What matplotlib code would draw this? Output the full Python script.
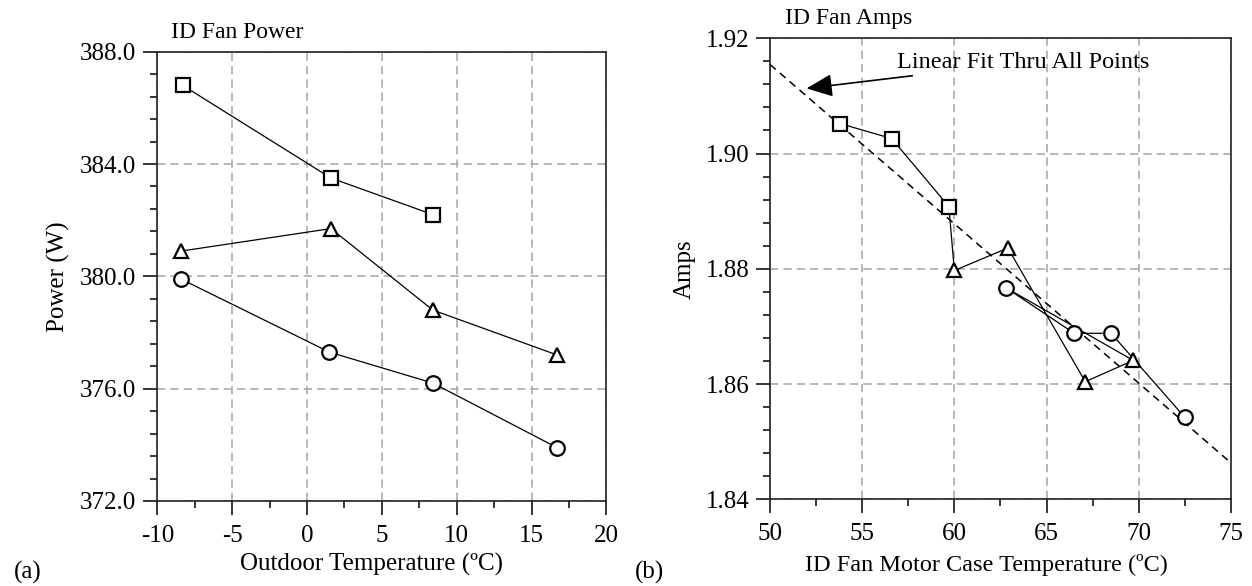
import numpy as np
import matplotlib.pyplot as plt
from matplotlib.ticker import MultipleLocator, FormatStrFormatter

plt.rcParams['font.family'] = ['Liberation Serif', 'DejaVu Serif']
plt.rcParams['axes.unicode_minus'] = False

# (a) ID fan power vs outdoor temperature
pow_sq_x = [-8.3, 1.6, 8.4]
pow_sq_y = [386.8, 383.5, 382.2]
pow_tri_x = [-8.4, 1.6, 8.4, 16.7]
pow_tri_y = [380.9, 381.7, 378.8, 377.2]
pow_cir_x = [-8.4, 1.5, 8.4, 16.7]
pow_cir_y = [379.9, 377.3, 376.2, 373.9]

# (b) ID fan amps vs motor case temperature
amp_sq_x = [53.8, 56.6, 59.7]
amp_sq_y = [1.9052, 1.9026, 1.8908]
amp_tri_x = [60.0, 62.9, 67.1, 69.7]
amp_tri_y = [1.8797, 1.8836, 1.8604, 1.8641]
amp_cir_x = [62.8, 66.5, 68.5, 72.5]
amp_cir_y = [1.8767, 1.8688, 1.8688, 1.8542]

grid_kw = dict(ls=(0, (5, 3)), color='#aaaaaa', lw=1.2)
mk_kw = dict(color='black', lw=0.9, mfc='white', mec='black', mew=1.6, ms=10.5)


def style_axes(ax, fs):
    for s in ax.spines.values():
        s.set_linewidth(1.2)
        s.set_color('#222222')
    ax.tick_params(which='major', direction='out', length=10, width=1.1,
                   labelsize=fs, top=False, right=False)
    ax.tick_params(which='minor', direction='out', length=5, width=1.1,
                   top=False, right=False)
    ax.tick_params(axis='x', pad=7)
    ax.tick_params(axis='y', pad=5)
    ax.grid(which='major', **grid_kw)
    ax.set_axisbelow(True)


fig = plt.figure(figsize=(12.52, 5.86), dpi=100)

# ---- left panel ----
ax1 = fig.add_axes([0.1256, 0.1451, 0.3588, 0.7667])
ax1.plot(pow_sq_x, pow_sq_y, marker='s', **mk_kw)
ax1.plot(pow_tri_x, pow_tri_y, marker='^', **mk_kw)
ax1.plot(pow_cir_x, pow_cir_y, marker='o', **mk_kw)
ax1.set_xlim(-10, 20)
ax1.set_ylim(372, 388)
ax1.xaxis.set_major_locator(MultipleLocator(5))
ax1.xaxis.set_minor_locator(MultipleLocator(2.5))
ax1.yaxis.set_major_locator(MultipleLocator(4))
ax1.yaxis.set_minor_locator(MultipleLocator(0.8))
ax1.yaxis.set_major_formatter(FormatStrFormatter('%.1f'))
style_axes(ax1, 18)
ax1.set_xlabel('Outdoor Temperature (ºC)', fontsize=18, va='center')
ax1.xaxis.set_label_coords(0.477, -0.1424)
ax1.set_ylabel('Power (W)', fontsize=18, va='center')
ax1.yaxis.set_label_coords(-0.221, 0.5)
ax1.text(0.03, 1.042, 'ID Fan Power', transform=ax1.transAxes,
         fontsize=17, ha='left', va='center')

# ---- right panel ----
ax2 = fig.add_axes([0.6150, 0.1480, 0.3682, 0.7867])
all_x = amp_sq_x + amp_tri_x + amp_cir_x
all_y = amp_sq_y + amp_tri_y + amp_cir_y
slope, icpt = np.polyfit(all_x, all_y, 1)
fit_x = np.array([50, 75])
ax2.plot(fit_x, slope * fit_x + icpt, color='black', lw=1.1, ls=(0, (5, 3.5)))
ax2.plot(all_x, all_y, color='black', lw=0.9)
ax2.plot(amp_sq_x, amp_sq_y, ls='none', marker='s', **mk_kw)
ax2.plot(amp_tri_x, amp_tri_y, ls='none', marker='^', **mk_kw)
ax2.plot(amp_cir_x, amp_cir_y, ls='none', marker='o', **mk_kw)
ax2.set_xlim(50, 75)
ax2.set_ylim(1.84, 1.92)
ax2.xaxis.set_major_locator(MultipleLocator(5))
ax2.xaxis.set_minor_locator(MultipleLocator(2.5))
ax2.yaxis.set_major_locator(MultipleLocator(0.02))
ax2.yaxis.set_minor_locator(MultipleLocator(0.004))
ax2.yaxis.set_major_formatter(FormatStrFormatter('%.2f'))
style_axes(ax2, 18)
ax2.set_xlabel('ID Fan Motor Case Temperature (ºC)', fontsize=17.5, va='center')
ax2.xaxis.set_label_coords(0.470, -0.1425)
ax2.set_ylabel('Amps', fontsize=18, va='center')
ax2.yaxis.set_label_coords(-0.185, 0.5)
ax2.text(0.0325, 1.042, 'ID Fan Amps', transform=ax2.transAxes,
         fontsize=17, ha='left', va='center')
ax2.annotate('Linear Fit Thru All Points', xy=(51.98, 1.9113),
             xytext=(56.9, 1.9158), fontsize=17.5, ha='left', va='center',
             arrowprops=dict(arrowstyle='-|>,head_length=0.8,head_width=0.35',
                             color='black', lw=1.2, shrinkA=0, shrinkB=0,
                             mutation_scale=20))

fig.text(27.5 / 1252, 1 - 572 / 586, '(a)', fontsize=18, ha='center', va='center')
fig.text(650 / 1252, 1 - 572 / 586, '(b)', fontsize=18, ha='center', va='center')

fig.savefig('out.png', dpi=100)
